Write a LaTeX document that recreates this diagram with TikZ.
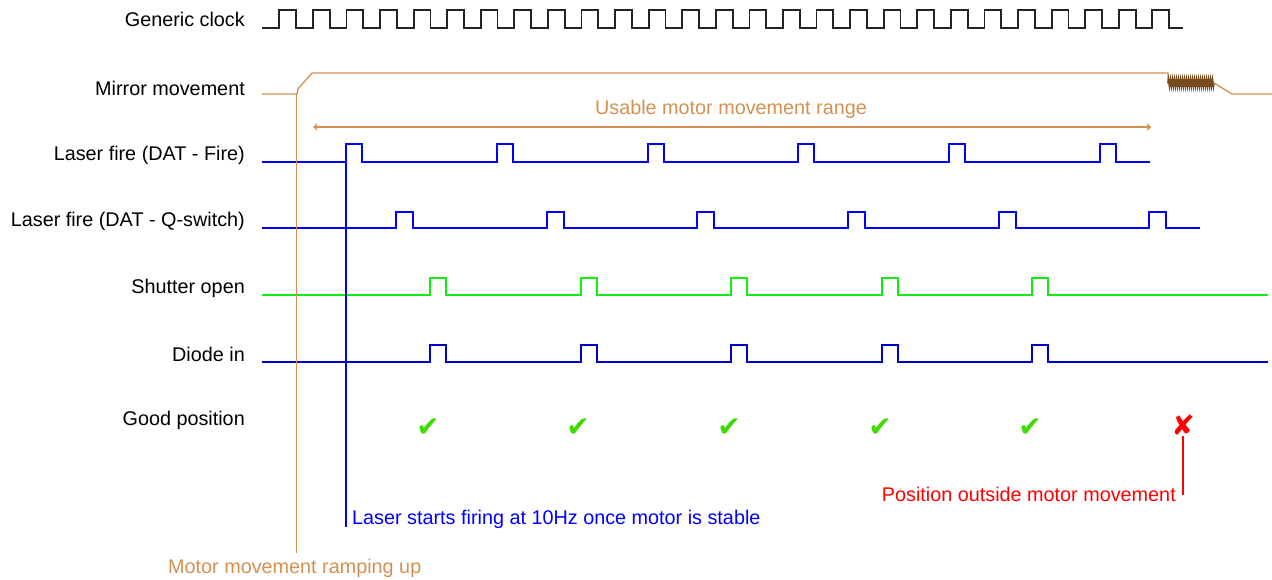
\documentclass[tikz,border=0pt]{standalone}
\usepackage{fontspec}
\setmainfont{Liberation Sans}
\newfontfamily\symfont{DejaVu Sans}
\usetikzlibrary{decorations.pathmorphing,arrows.meta}
\definecolor{mbrown}{RGB}{210,145,80}
\definecolor{dbrown}{RGB}{120,75,30}
\definecolor{clkc}{RGB}{35,35,35}
\definecolor{sgreen}{RGB}{20,235,20}
\definecolor{cgreen}{RGB}{60,220,0}
\begin{document}
\begin{tikzpicture}[x=1pt,y=-1pt,
  lbl/.style={anchor=east,inner sep=0pt,font=\fontsize{19.8}{21}\selectfont},
  note/.style={inner sep=0pt,font=\fontsize{19.8}{21}\selectfont},
  wave/.style={line width=1.6pt,line join=miter},
  tick/.style={inner sep=0pt,text=cgreen,font=\symfont\fontsize{28}{30}\selectfont}]
\useasboundingbox (0,0) rectangle (1272,580);
% labels
\node[lbl] (lclk) at (245,19) {Generic clock};
\node[lbl] (lmir) at (245,88) {Mirror movement};
\node[lbl] (lfire) at (245,155) {Laser fire (DAT - Fire)};
\node[lbl] (lq) at (245,221) {Laser fire (DAT - Q-switch)};
\node[lbl] (lsh) at (245,288) {Shutter open};
\node[lbl] (ldi) at (245,354) {Diode in};
\node[lbl] (lgood) at (245,420) {Good position};
% clock
\draw[wave,clkc,line width=1.8pt] (262,28) -- (279.3,28)
  foreach \i in {0,...,25} { -- ++(0,-18) -- ++(16.79,0) -- ++(0,18) -- ++(16.79,0) }
  -- ++(0,-18) -- ++(16.5,0) -- ++(0,18) -- (1183,28);
% mirror movement
\draw[wave,mbrown,line width=1.3pt] (262,94) -- (297,94) -- (298,89) -- (312,73) -- (1168,73) -- (1168,84);
\draw[dbrown,line width=1.6pt,decorate,decoration={zigzag,amplitude=3.5pt,segment length=2pt}] (1168,83) -- (1214,83);
\draw[mbrown,line width=1.3pt] (1214,83) -- (1232,94) -- (1272,94);
% usable range
\coordinate (ua) at (313,127);
\coordinate (ub) at (1151,127);
\draw[mbrown,line width=1.3pt,{Straight Barb[length=3pt,width=6pt]}-{Straight Barb[length=3pt,width=6pt]}] (ua) -- (ub);
\node[note,text=mbrown] (urange) at (731,109) {Usable motor movement range};
% laser fire
\draw[wave,blue] (262,162) foreach \x in {346,497,648,798,949,1100} { -- (\x,162) -- (\x,144) -- (\x+16,144) -- (\x+16,162) } -- (1150,162);
% q-switch
\draw[wave,blue] (262,228) foreach \x in {396,547,697,848,999,1149} { -- (\x,228) -- (\x,212) -- (\x+17,212) -- (\x+17,228) } -- (1200,228);
% shutter
\draw[wave,sgreen] (262,295) foreach \x in {430,581,731,882,1032} { -- (\x,295) -- (\x,278) -- (\x+16,278) -- (\x+16,295) } -- (1268,295);
% diode
\draw[wave,blue!80!black] (262,362) foreach \x in {430,581,731,882,1032} { -- (\x,362) -- (\x,345) -- (\x+16,345) -- (\x+16,362) } -- (1268,362);
% checks
\foreach \x/\n in {428/c1,578/c2,729/c3,880/c4,1030/c5} { \node[tick] (\n) at (\x,428) {✔}; }
\node[tick,text=red] (cross) at (1183,425) {✘};
% notes
\node[note,text=red,anchor=east] (pos) at (1176,494) {Position outside motor movement};
\coordinate (posend) at (1183,495);
\draw[red,line width=1.3pt] (cross.south) -- (posend);
\node[note,text=blue,anchor=west] (laser) at (352,519) {Laser starts firing at 10Hz once motor is stable};
\coordinate (ltop) at (346,144);
\coordinate (lbot) at (346,527);
\draw[blue,line width=1.3pt] (ltop) -- (lbot);
\node[note,text=mbrown,anchor=west] (ramp) at (168,568) {Motor movement ramping up};
\coordinate (rtop) at (296.5,94);
\coordinate (rbot) at (296.5,553);
\draw[mbrown,line width=1.3pt] (rtop) -- (rbot);
\end{tikzpicture}
\end{document}
